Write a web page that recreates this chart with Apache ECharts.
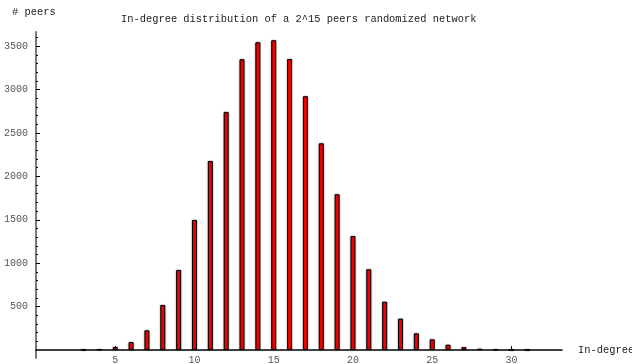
<!DOCTYPE html>
<html>
<head>
<meta charset="utf-8">
<script src="https://cdn.jsdelivr.net/npm/echarts@6/dist/echarts.min.js"></script>
<style>html,body{margin:0;padding:0;background:#fff}#c{width:632px;height:364px}</style>
</head>
<body>
<div id="c"></div>
<script>
const degrees = [3,4,5,6,7,8,9,10,11,12,13,14,15,16,17,18,19,20,21,22,23,24,25,26,27,28,29,30,31];
const peers = [2,9,35,92,227,518,922,1498,2177,2742,3349,3545,3568,3352,2923,2381,1794,1313,930,556,361,192,123,61,33,15,7,3,1];
const xTicks = [5,10,15,20,25,30];
const yTicks = [500,1000,1500,2000,2500,3000,3500];
const yMinorTicks = [100,200,300,400,600,700,800,900,1100,1200,1300,1400,1600,1700,1800,1900,2100,2200,2300,2400,2600,2700,2800,2900,3100,3200,3300,3400,3600];
const titleText = 'In-degree distribution of a 2^15 peers randomized network';

const font = '"Liberation Mono", "DejaVu Sans Mono", monospace';
const chart = echarts.init(document.getElementById('c'), null, {renderer:'canvas'});
const yMin = -92, yMax = 3663;
const plain = v => String(v);
chart.setOption({
  animation: false,
  backgroundColor: '#fff',
  title: [
    {text: titleText, left: 116, top: 9, textStyle: {fontFamily: font, fontSize: 10.4, fontWeight: 'normal', color: '#222'}},
    {text: '# peers', left: 7, top: 2, textStyle: {fontFamily: font, fontSize: 10.4, fontWeight: 'normal', color: '#222'}}
  ],
  grid: {left: 36, right: 70, top: 32, bottom: 6, containLabel: false, outerBoundsMode: 'none'},
  xAxis: {
    type: 'value', min: 0, max: 33.19,
    name: 'In-degree', nameLocation: 'end', nameGap: 16,
    nameTextStyle: {fontFamily: font, fontSize: 10.4, color: '#222', verticalAlign: 'middle'},
    axisLine: {onZero: true, lineStyle: {color: '#000', width: 1.5}},
    axisTick: {show: true, inside: true, length: 4, customValues: xTicks, lineStyle: {color: '#000'}},
    axisLabel: {customValues: xTicks, formatter: plain, fontFamily: font, fontSize: 10, color: '#555', margin: -3, hideOverlap: false},
    splitLine: {show: false}
  },
  yAxis: [
    {
      type: 'value', min: yMin, max: yMax,
      axisLine: {show: true, onZero: false, lineStyle: {color: '#777', width: 2}},
      axisTick: {show: true, inside: true, length: 4, customValues: yTicks, lineStyle: {color: '#000'}},
      axisLabel: {customValues: yTicks, formatter: plain, fontFamily: font, fontSize: 10, color: '#555', margin: 8},
      splitLine: {show: false}
    },
    {
      type: 'value', min: yMin, max: yMax, position: 'left',
      axisLine: {show: false},
      axisTick: {show: true, inside: true, length: 2, customValues: yMinorTicks, lineStyle: {color: '#000'}},
      axisLabel: {show: false},
      splitLine: {show: false}
    }
  ],
  series: [{
    type: 'bar',
    yAxisIndex: 0,
    barWidth: 5,
    data: degrees.map((d, i) => [d, peers[i]]),
    itemStyle: {
      color: '#ff0000', borderColor: '#000', borderWidth: 1,
      shadowColor: 'rgba(0,0,0,0.4)', shadowBlur: 2
    }
  }]
});
</script>
</body>
</html>
